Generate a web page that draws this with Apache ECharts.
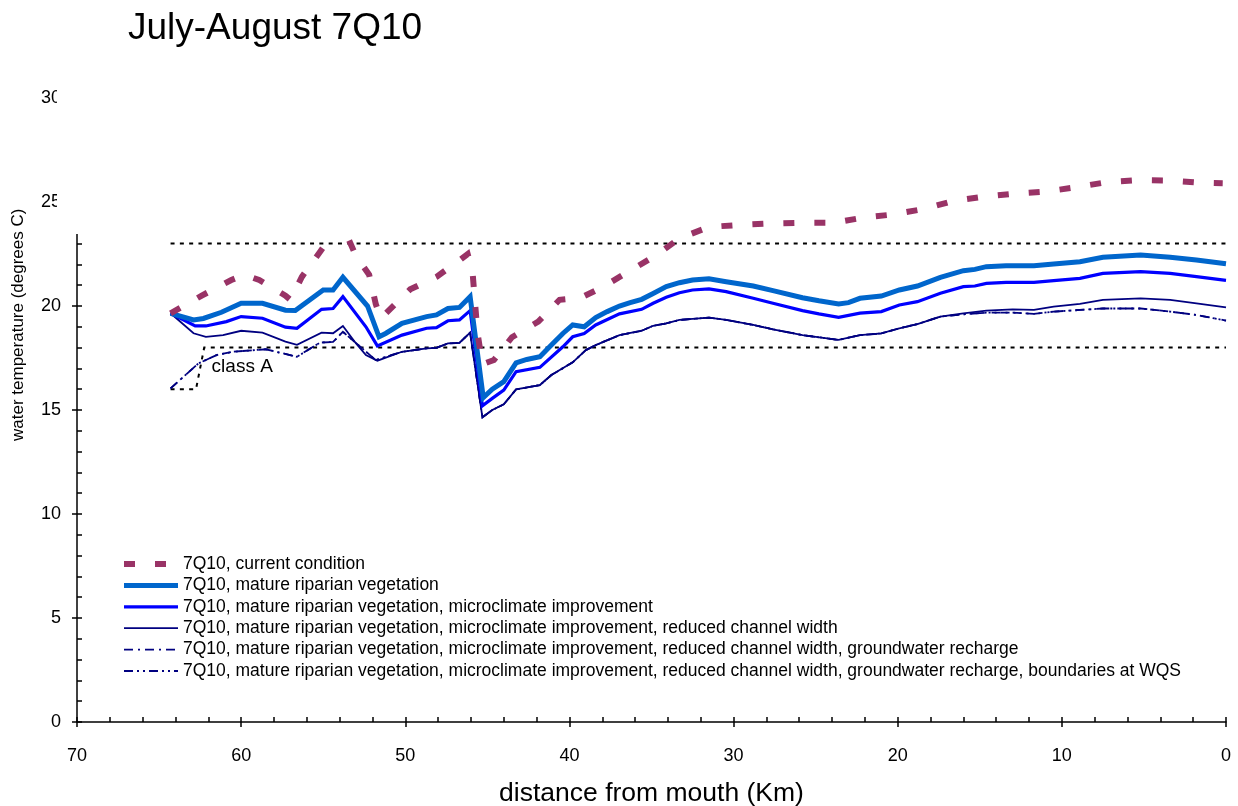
<!DOCTYPE html>
<html>
<head>
<meta charset="utf-8">
<script src="https://cdn.jsdelivr.net/npm/echarts@6/dist/echarts.min.js"></script>
<style>
  html, body { margin: 0; padding: 0; background: #fff; }
  #chart { width: 1238px; height: 806px; }
</style>
</head>
<body>
<div id="chart"></div>
<script>
// Water temperature along the river, July-August 7Q10 low-flow scenarios.
// Each series is a list of [distance from mouth (km), temperature (deg C)].
const seriesNames = [
  '7Q10, current condition',
  '7Q10, mature riparian vegetation',
  '7Q10, mature riparian vegetation, microclimate improvement',
  '7Q10, mature riparian vegetation, microclimate improvement, reduced channel width',
  '7Q10, mature riparian vegetation, microclimate improvement, reduced channel width, groundwater recharge',
  '7Q10, mature riparian vegetation, microclimate improvement, reduced channel width, groundwater recharge, boundaries at WQS'
];

const currentCondition = [
  [64.3, 19.65], [62.4, 20.5], [60.6, 21.25], [59.8, 21.5], [58.9, 21.25], [57.3, 20.5], [57.0, 20.3],
  [56.3, 21.4], [55.2, 22.6], [54.3, 23.6], [53.9, 24.0], [53.0, 22.4], [52.2, 21.5], [51.8, 20.1],
  [51.5, 19.4], [49.7, 20.8], [48.1, 21.4], [46.7, 22.2], [46.2, 22.5], [45.9, 21.6], [45.6, 18.7],
  [45.3, 17.2], [44.6, 17.4], [43.5, 18.5], [41.9, 19.25], [40.6, 20.3], [39.3, 20.4], [38.0, 20.9],
  [36.3, 21.7], [34.7, 22.45], [33.3, 23.25], [31.5, 23.8], [29.6, 23.9], [27.6, 23.97], [25.8, 24.0],
  [23.9, 24.0], [22.1, 24.25], [20.3, 24.4], [18.5, 24.65], [16.6, 25.05], [14.8, 25.25], [12.9, 25.4],
  [11.0, 25.5], [9.2, 25.7], [7.3, 25.95], [5.4, 26.05], [3.5, 26.03], [1.7, 25.93], [0.2, 25.9]
];

const riparian = [
  [64.3, 19.65], [62.9, 19.33], [62.3, 19.4], [61.2, 19.7], [60.0, 20.13], [58.7, 20.13], [57.3, 19.8],
  [56.7, 19.78], [55.0, 20.77], [54.4, 20.77], [53.8, 21.38], [52.3, 20.0], [51.6, 18.52], [51.2, 18.68],
  [50.2, 19.17], [48.7, 19.49], [48.1, 19.57], [47.4, 19.88], [46.7, 19.93], [46.05, 20.45], [45.25, 15.6],
  [44.7, 16.0], [44.0, 16.36], [43.25, 17.27], [42.6, 17.43], [41.8, 17.56], [41.1, 18.12], [40.4, 18.68],
  [39.8, 19.09], [39.1, 19.0], [38.4, 19.44], [37.7, 19.73], [36.95, 20.0], [36.3, 20.16], [35.6, 20.32],
  [34.9, 20.6], [34.1, 20.93], [33.3, 21.12], [32.5, 21.25], [31.5, 21.31], [30.45, 21.17], [28.8, 20.96],
  [27.6, 20.74], [25.8, 20.4], [24.8, 20.25], [23.6, 20.1], [23.0, 20.16], [22.3, 20.37], [21.0, 20.48],
  [19.9, 20.77], [18.8, 20.96], [17.4, 21.38], [16.0, 21.7], [15.3, 21.76], [14.6, 21.89], [13.4, 21.94],
  [11.7, 21.94], [10.5, 22.02], [8.9, 22.13], [7.5, 22.34], [5.2, 22.45], [3.4, 22.34], [1.8, 22.21], [0, 22.03]
];

const microclimate = [
  [64.3, 19.65], [62.8, 19.04], [62.15, 19.04], [60.9, 19.25], [60.0, 19.49], [58.7, 19.41], [57.3, 18.98],
  [56.6, 18.93], [55.1, 19.84], [54.4, 19.88], [53.8, 20.45], [52.4, 19.0], [51.7, 18.08], [50.2, 18.6],
  [48.7, 18.93], [48.1, 18.96], [47.4, 19.29], [46.7, 19.33], [46.05, 19.78], [45.3, 15.2], [44.7, 15.56],
  [44.0, 15.96], [43.25, 16.84], [41.8, 17.05], [40.4, 18.04], [39.8, 18.52], [39.1, 18.68], [38.4, 19.09],
  [36.95, 19.62], [35.6, 19.84], [34.9, 20.13], [34.1, 20.42], [33.3, 20.64], [32.5, 20.77], [31.5, 20.82],
  [30.45, 20.69], [28.8, 20.37], [27.6, 20.13], [25.8, 19.78], [24.8, 19.62], [23.6, 19.45], [22.3, 19.66],
  [21.0, 19.73], [19.9, 20.05], [18.8, 20.21], [17.4, 20.61], [16.0, 20.93], [15.3, 20.96], [14.6, 21.09],
  [13.4, 21.14], [11.7, 21.14], [10.5, 21.22], [8.9, 21.33], [7.5, 21.57], [5.2, 21.65], [3.4, 21.57],
  [1.8, 21.41], [0, 21.23]
];

const channelWidth = [
  [64.3, 19.65], [62.9, 18.69], [62.15, 18.52], [61.1, 18.6], [60.0, 18.81], [58.7, 18.72], [57.3, 18.29],
  [56.6, 18.13], [55.1, 18.72], [54.4, 18.69], [53.8, 19.04], [53.0, 18.2], [52.4, 17.64], [51.7, 17.37],
  [50.2, 17.8], [48.7, 17.96], [48.1, 17.99], [47.4, 18.2], [46.7, 18.23], [46.05, 18.72], [45.3, 14.65],
  [44.7, 15.0], [44.0, 15.27], [43.25, 15.99], [41.8, 16.2], [41.1, 16.68], [39.8, 17.29], [39.0, 17.88],
  [38.4, 18.12], [36.95, 18.6], [35.6, 18.81], [34.9, 19.05], [34.1, 19.16], [33.3, 19.33], [31.5, 19.44],
  [30.45, 19.33], [28.8, 19.09], [27.6, 18.88], [25.8, 18.6], [23.6, 18.37], [22.3, 18.6], [21.0, 18.68],
  [19.9, 18.93], [18.8, 19.13], [17.4, 19.49], [16.0, 19.65], [14.6, 19.78], [13.0, 19.84], [11.7, 19.81],
  [10.5, 19.97], [8.9, 20.1], [7.5, 20.29], [5.2, 20.37], [3.4, 20.29], [1.8, 20.13], [0, 19.93]
];

const groundwater = [
  [64.3, 16.04], [62.6, 17.24], [61.5, 17.64], [60.5, 17.8], [58.5, 17.92], [56.6, 17.56], [55.2, 18.24],
  [54.4, 18.27], [53.8, 18.76], [51.8, 17.4], [50.2, 17.8], [48.7, 17.96], [48.1, 17.99], [47.4, 18.2],
  [46.7, 18.23], [46.05, 18.72], [45.3, 14.65], [44.7, 15.0], [44.0, 15.27], [43.25, 15.99], [41.8, 16.2],
  [41.1, 16.68], [39.8, 17.29], [39.0, 17.88], [38.4, 18.12], [36.95, 18.6], [35.6, 18.81], [34.9, 19.05],
  [34.1, 19.16], [33.3, 19.33], [31.5, 19.44], [30.45, 19.33], [28.8, 19.09], [27.6, 18.88], [25.8, 18.6],
  [23.6, 18.37], [22.3, 18.6], [21.0, 18.68], [19.9, 18.93], [18.8, 19.13], [17.4, 19.49], [16.0, 19.6],
  [14.6, 19.68], [13.0, 19.68], [11.7, 19.62], [10.5, 19.73], [8.9, 19.81], [7.5, 19.88], [5.2, 19.88],
  [3.4, 19.73], [1.8, 19.57], [0, 19.3]
];

const boundariesWQS = [
  [64.3, 16.04], [62.6, 17.24], [61.5, 17.64], [60.5, 17.8], [58.5, 17.92], [56.6, 17.56], [55.2, 18.24],
  [54.4, 18.27], [53.8, 18.76], [51.8, 17.4], [50.2, 17.8], [48.7, 17.96], [48.1, 17.99], [47.4, 18.2],
  [46.7, 18.23], [46.05, 18.72], [45.3, 14.65], [44.7, 15.0], [44.0, 15.27], [43.25, 15.99], [41.8, 16.2],
  [41.1, 16.68], [39.8, 17.29], [39.0, 17.88], [38.4, 18.12], [36.95, 18.6], [35.6, 18.81], [34.9, 19.05],
  [34.1, 19.16], [33.3, 19.33], [31.5, 19.44], [30.45, 19.33], [28.8, 19.09], [27.6, 18.88], [25.8, 18.6],
  [23.6, 18.37], [22.3, 18.6], [21.0, 18.68], [19.9, 18.93], [18.8, 19.13], [17.4, 19.49], [16.0, 19.6],
  [14.6, 19.68], [13.0, 19.68], [11.7, 19.62], [10.5, 19.73], [8.9, 19.81], [7.5, 19.88], [5.2, 19.88],
  [3.4, 19.73], [1.8, 19.57], [0, 19.3]
];

// Water quality standard bands (class A)
const upperStandard = [[64.3, 23], [0, 23]];
const classAStandard = [[64.3, 16], [62.75, 16], [62.25, 18], [0, 18]];
const classALabelAt = [61.8, 17.1];

const xTicks = { min: 0, max: 70, step: 10 };
const yTicks = { min: 0, max: 30, step: 5 };

const SANS = "'Liberation Sans', Arial, sans-serif";
const AXIS_BLACK = '#000';

const chart = echarts.init(document.getElementById('chart'), null, { renderer: 'canvas' });

function lineSeries(name, data, color, width, type, z) {
  return {
    name: name, type: 'line', data: data,
    xAxisIndex: 0, yAxisIndex: 0,
    symbol: 'none', showSymbol: false, smooth: false, animation: false,
    z: z || 2,
    lineStyle: { color: color, width: width, type: type, cap: 'butt', join: 'miter' },
    itemStyle: { color: color },
    emphasis: { disabled: true }
  };
}

const styles = [
  { color: '#993366', width: 6, type: [11, 20] },
  { color: '#0066CC', width: 5, type: 'solid' },
  { color: '#0000FF', width: 3.2, type: 'solid' },
  { color: '#000080', width: 1.8, type: 'solid' },
  { color: '#000080', width: 1.8, type: [9, 5, 2, 5] },
  { color: '#000080', width: 1.8, type: [9, 4, 2, 4, 2, 4] }
];
const seriesData = [currentCondition, riparian, microclimate, channelWidth, groundwater, boundariesWQS];

const series = [];
// limit lines first so the scenario curves sit above them
series.push(lineSeries('upper limit', upperStandard, AXIS_BLACK, 2, [4, 5.3], 1));
series.push(lineSeries('class A limit', classAStandard, AXIS_BLACK, 2, [4, 5.3], 1));
for (let i = seriesNames.length - 1; i >= 0; i--) {
  const s = styles[i];
  series.push(lineSeries(seriesNames[i], seriesData[i], s.color, s.width, s.type, i === 0 ? 4 : 3));
}

const legendData = seriesNames.map((n, i) => ({
  name: n,
  lineStyle: { width: styles[i].width, type: styles[i].type, color: styles[i].color }
}));

const baseX = {
  type: 'value', min: xTicks.min, max: xTicks.max, interval: xTicks.step,
  inverse: true, position: 'bottom', splitLine: { show: false }
};
const baseY = {
  type: 'value', min: yTicks.min, max: yTicks.max, interval: yTicks.step,
  position: 'left', splitLine: { show: false }
};

const option = {
  animation: false,
  backgroundColor: '#fff',
  title: {
    text: 'July-August 7Q10', left: 123, top: 5,
    textStyle: { fontFamily: SANS, fontSize: 37, fontWeight: 'normal', color: '#000' }
  },
  grid: { left: 77, right: 12, top: 98, bottom: 84, containLabel: false, outerBoundsMode: 'none' },
  legend: {
    data: legendData, orient: 'vertical', left: 121, top: 555,
    itemWidth: 54, itemHeight: 14, itemGap: 3.4, padding: 0,
    selectedMode: false,
    itemStyle: { opacity: 0 },
    textStyle: { fontFamily: SANS, fontSize: 17.5, color: '#000', padding: [0, 0, 0, 0] }
  },
  xAxis: [
    Object.assign({}, baseX, {
      axisLine: { show: true, onZero: false, lineStyle: { color: AXIS_BLACK, width: 1.5 } },
      axisTick: { show: true, inside: false, length: 5, lineStyle: { color: AXIS_BLACK, width: 1.5 } },
      minorTick: { show: false },
      axisLabel: { show: true, margin: 25, fontFamily: SANS, fontSize: 18, color: '#000' },
      name: 'distance from mouth (Km)', nameLocation: 'middle', nameGap: 58,
      nameTextStyle: { fontFamily: SANS, fontSize: 26.5, color: '#000' }
    }),
    Object.assign({}, baseX, {
      axisLine: { show: false, onZero: false },
      axisTick: { show: true, inside: true, length: 5, lineStyle: { color: AXIS_BLACK, width: 1.5 } },
      minorTick: { show: true, splitNumber: 5, length: 5, lineStyle: { color: AXIS_BLACK, width: 1.5 } },
      axisLabel: { show: false }
    })
  ],
  yAxis: [
    Object.assign({}, baseY, {
      axisLine: { show: true, onZero: false, lineStyle: { color: AXIS_BLACK, width: 1.5 } },
      axisTick: { show: true, inside: false, length: 5, lineStyle: { color: AXIS_BLACK, width: 1.5 } },
      minorTick: { show: false },
      axisLabel: { show: true, margin: 16, fontFamily: SANS, fontSize: 18, color: '#000' }
    }),
    Object.assign({}, baseY, {
      axisLine: { show: false, onZero: false },
      axisTick: { show: true, inside: true, length: 5, lineStyle: { color: AXIS_BLACK, width: 1.5 } },
      minorTick: { show: true, splitNumber: 5, length: 5, lineStyle: { color: AXIS_BLACK, width: 1.5 } },
      axisLabel: { show: false }
    })
  ],
  series: series
};

chart.setOption(option);

// annotations placed after the axes exist
const labelPx = chart.convertToPixel({ xAxisIndex: 0, yAxisIndex: 0 }, classALabelAt);
chart.setOption({
  graphic: [
    {
      type: 'text', z: 50, x: 10, y: 441,
      rotation: Math.PI / 2,
      style: { text: 'water temperature (degrees C)', fontFamily: SANS, fontSize: 17, fill: '#000' }
    },
    {
      // blank panel over the upper-left corner of the plot
      type: 'rect', z: 100, silent: true,
      shape: { x: 57, y: 48, width: 545, height: 186 },
      style: { fill: '#fff' }
    },
    {
      type: 'text', z: 50, x: labelPx[0], y: labelPx[1],
      style: { text: 'class A', fontFamily: SANS, fontSize: 19, fill: '#000',
               textAlign: 'left', textVerticalAlign: 'middle' }
    }
  ]
});
</script>
</body>
</html>
